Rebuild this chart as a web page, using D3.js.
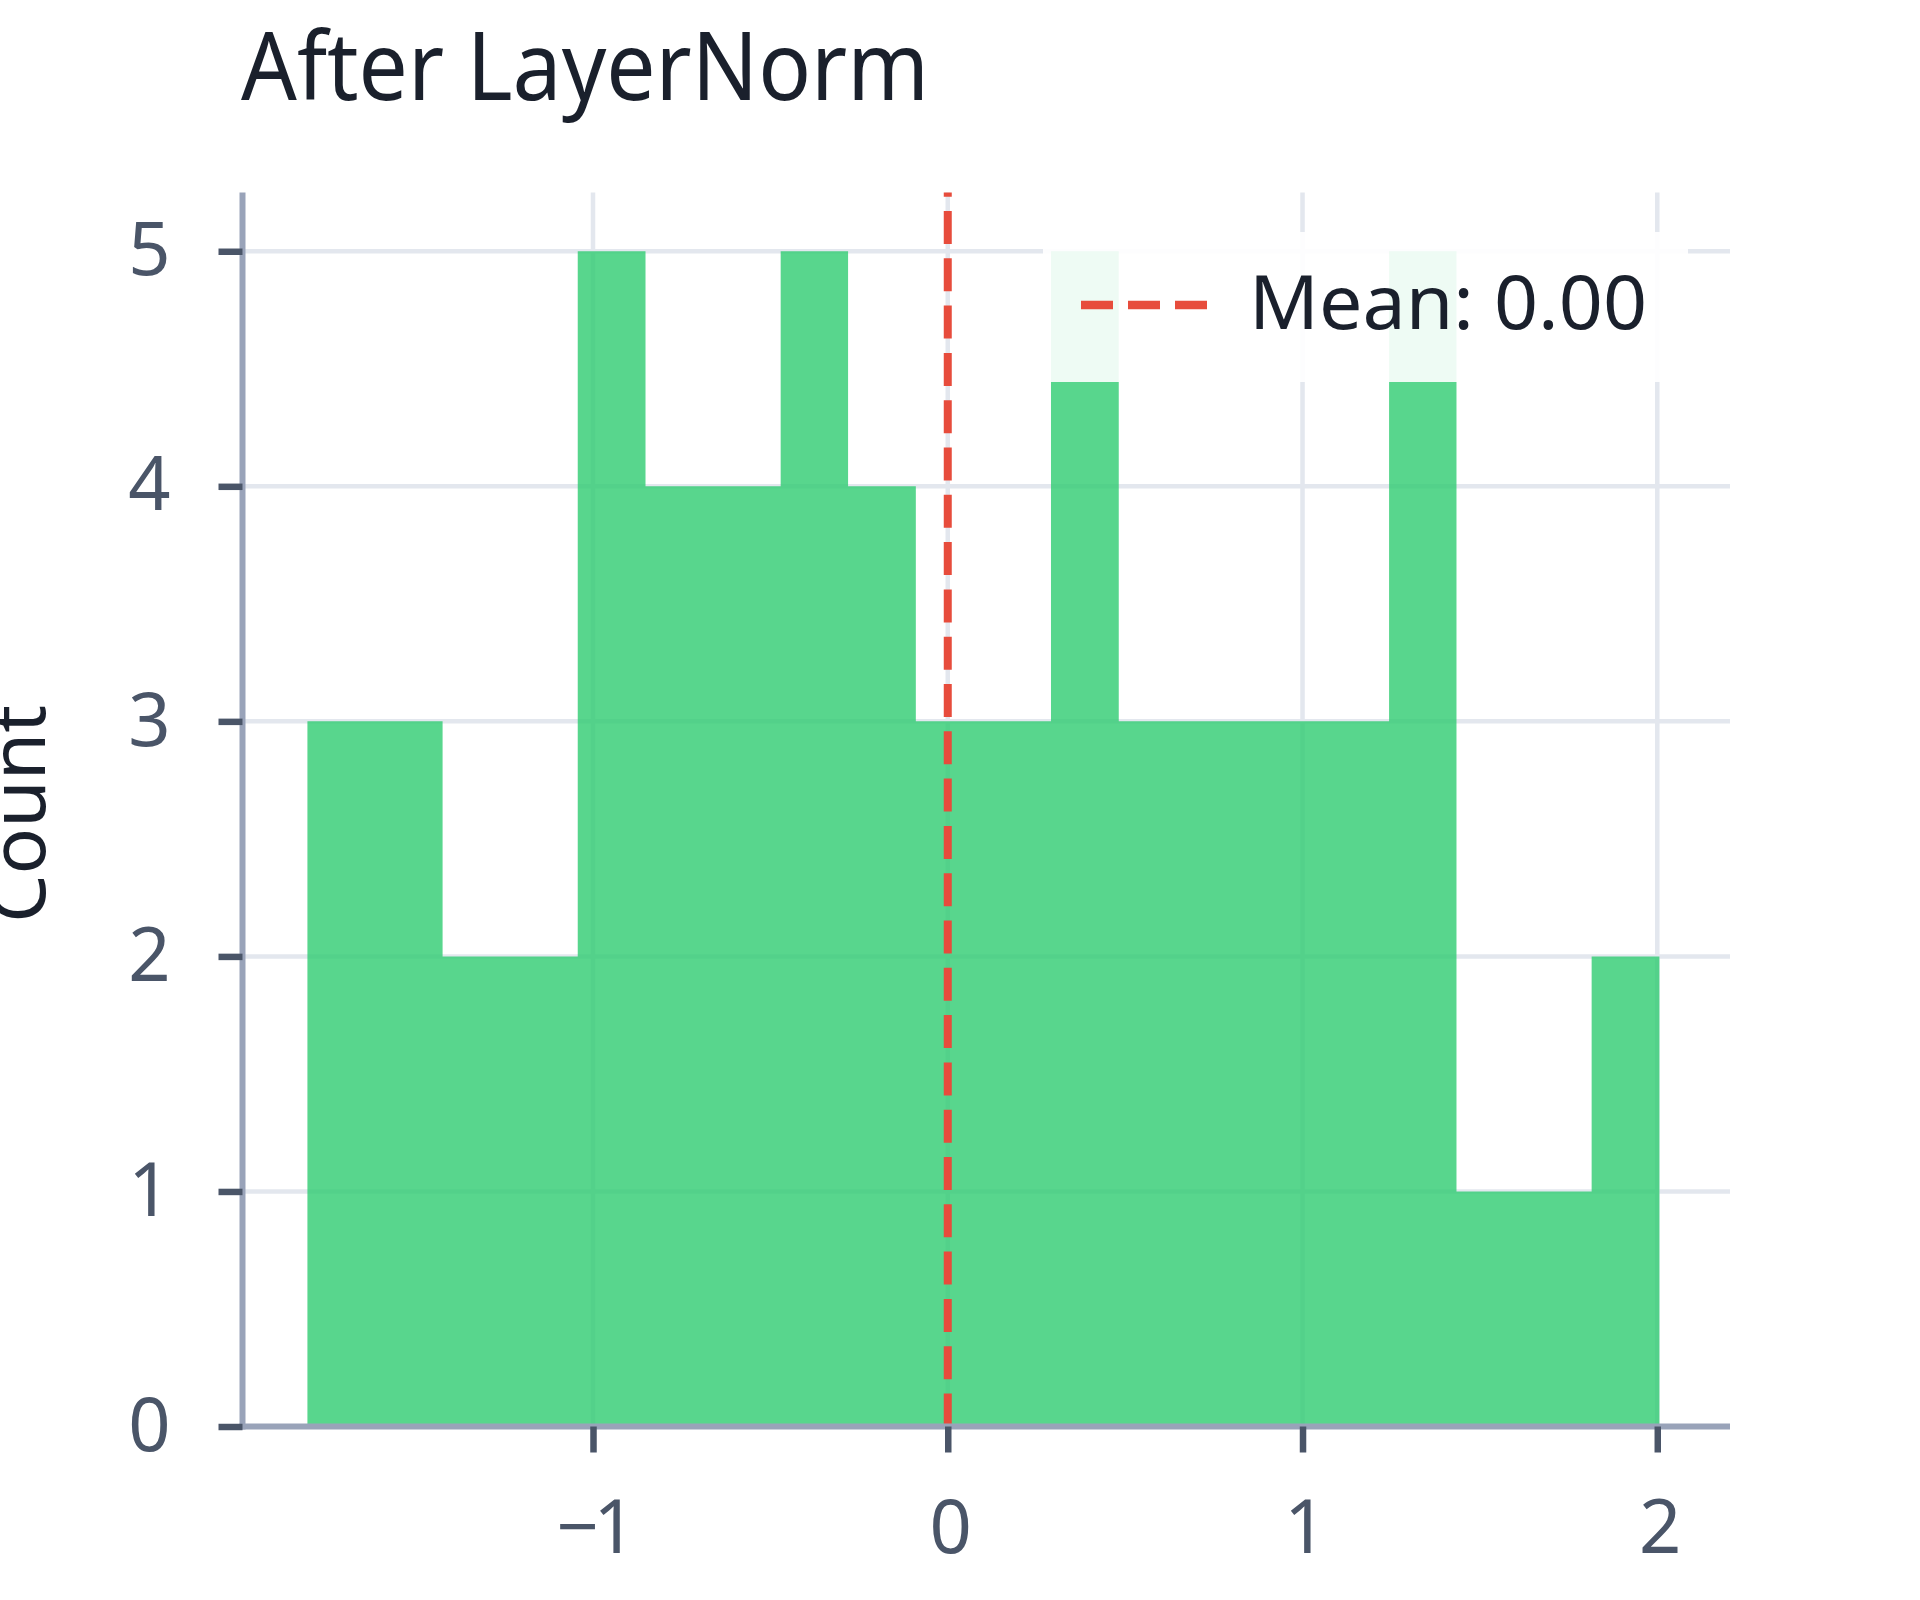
<!DOCTYPE html>
<html>
<head>
<meta charset="utf-8">
<script src="https://cdn.jsdelivr.net/npm/d3@7"></script>
<style>
  html, body { margin: 0; padding: 0; background: #fff; }
  svg { display: block; }
  text { font-family: "Noto Sans", "Open Sans", sans-serif; }
</style>
</head>
<body>
<div id="visContainer"></div>
<script>
const width = 1920;
const height = 1600;

// histogram of 64 values after LayerNorm, 20 bins
const binEdges = [-1.805, -1.614, -1.424, -1.233, -1.043, -0.852, -0.662, -0.471, -0.281, -0.090,
  0.100, 0.291, 0.482, 0.672, 0.863, 1.053, 1.244, 1.434, 1.625, 1.815, 2.006];
const binCounts = [3, 3, 2, 2, 5, 4, 4, 5, 4, 3, 3, 5, 3, 3, 3, 3, 5, 1, 1, 2];
const meanValue = 0.00;
const xDomain = [-1.988, 2.205];
const yDomain = [0, 5.25];
const xTicks = [-1, 0, 1, 2];
const yTicks = [0, 1, 2, 3, 4, 5];
const titleText = "After LayerNorm";
const yLabel = "Count";
const legendLabel = `Mean: ${meanValue.toFixed(2)}`;

const plot = { left: 242.5, right: 1730, top: 192.5, bottom: 1426.5 };

const x = d3.scaleLinear().domain(xDomain).range([plot.left, plot.right]);
const y = d3.scaleLinear().domain(yDomain).range([plot.bottom, plot.top]);

// step outline: each bin gives its left and right corner
const steps = binCounts.flatMap((c, i) => [
  { v: binEdges[i], count: c },
  { v: binEdges[i + 1], count: c }
]);

const svg = d3.select("#visContainer")
  .append("svg")
  .attr("width", width)
  .attr("height", height);

// grid
const grid = svg.append("g");
grid.selectAll("line.h")
  .data(yTicks)
  .join("line")
  .attr("x1", plot.left).attr("x2", plot.right)
  .attr("y1", d => y(d)).attr("y2", d => y(d))
  .attr("stroke", "#e3e7ee")
  .attr("stroke-width", 4.5);
grid.selectAll("line.v")
  .data(xTicks)
  .join("line")
  .attr("x1", d => x(d)).attr("x2", d => x(d))
  .attr("y1", plot.top).attr("y2", plot.bottom)
  .attr("stroke", "#e3e7ee")
  .attr("stroke-width", 4.5);

// bars as one shape so neighbours leave no seams
const area = d3.area()
  .x(d => x(d.v))
  .y0(y(0))
  .y1(d => y(d.count));
svg.append("path")
  .datum(steps)
  .attr("d", area)
  .attr("fill", "#2ecc71")
  .attr("fill-opacity", 0.8);

// mean line, dashes run from the bottom up
svg.append("line")
  .attr("x1", x(meanValue)).attr("x2", x(meanValue))
  .attr("y1", plot.bottom).attr("y2", plot.top)
  .attr("stroke", "#e74c3c")
  .attr("stroke-width", 8)
  .attr("stroke-dasharray", "33 14.3");

// axes
const xAxis = d3.axisBottom(x)
  .tickValues(xTicks)
  .tickFormat(d => d3.format("d")(d).replace("-", "\u2212"))
  .tickSizeInner(26)
  .tickSizeOuter(0)
  .tickPadding(48);
const yAxis = d3.axisLeft(y)
  .tickValues(yTicks)
  .tickFormat(d3.format("d"))
  .tickSizeInner(24)
  .tickSizeOuter(0)
  .tickPadding(48);

const gx = svg.append("g")
  .attr("transform", `translate(0,${plot.bottom})`)
  .call(xAxis);
const gy = svg.append("g")
  .attr("transform", `translate(${plot.left},0)`)
  .call(yAxis);

[gx, gy].forEach(g => {
  g.select(".domain").attr("stroke", "#99a3b9").attr("stroke-width", 6);
  g.selectAll(".tick line").attr("stroke", "#4a5568").attr("stroke-width", 6.5);
  g.selectAll(".tick text")
    .attr("fill", "#4a5568")
    .style("font-size", "74px")
    .style("font-family", "'Noto Sans', sans-serif");
});
gx.selectAll(".tick text").style("letter-spacing", "-5px");
gx.select(".domain").attr("d", `M${plot.left - 3},0H${plot.right}`);
gy.select(".domain").attr("d", `M0,${plot.top}V${plot.bottom + 3}`);

// title and axis label
svg.append("text")
  .attr("x", 241)
  .attr("y", 100)
  .attr("fill", "#1a202c")
  .attr("textLength", 688)
  .attr("lengthAdjust", "spacingAndGlyphs")
  .style("font-size", "95px")
  .text(titleText);

svg.append("text")
  .attr("transform", `translate(45,814) rotate(-90)`)
  .attr("text-anchor", "middle")
  .attr("fill", "#1a202c")
  .style("font-size", "77px")
  .text(yLabel);

// legend
const legend = svg.append("g");
legend.append("rect")
  .attr("x", 1043).attr("y", 232)
  .attr("width", 645).attr("height", 150)
  .attr("rx", 8)
  .attr("fill", "#fff")
  .attr("fill-opacity", 0.9);
legend.append("line")
  .attr("x1", 1081).attr("x2", 1210)
  .attr("y1", 305).attr("y2", 305)
  .attr("stroke", "#e74c3c")
  .attr("stroke-width", 8.5)
  .attr("stroke-dasharray", "32 15");
legend.append("text")
  .attr("x", 1249)
  .attr("y", 329)
  .attr("fill", "#1a202c")
  .attr("textLength", 398)
  .attr("lengthAdjust", "spacingAndGlyphs")
  .style("font-size", "74px")
  .text(legendLabel);
</script>
</body>
</html>
